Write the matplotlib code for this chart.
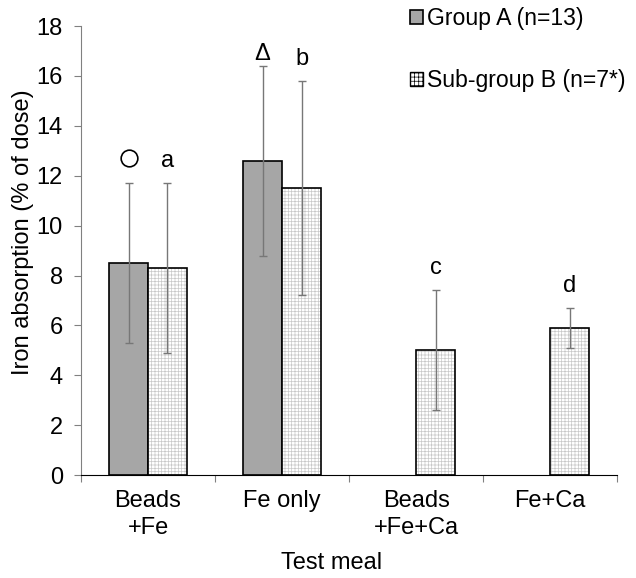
import matplotlib
matplotlib.use('Agg')
import matplotlib.pyplot as plt
import numpy as np

plt.rcParams['font.family'] = ['Liberation Sans', 'DejaVu Sans']
plt.rcParams['hatch.linewidth'] = 0.5

# data
meals = ['Beads\n+Fe', 'Fe only', 'Beads\n+Fe+Ca', 'Fe+Ca']
group_a = [8.5, 12.6, np.nan, np.nan]
group_a_lo = [5.3, 8.8, np.nan, np.nan]
group_a_hi = [11.7, 16.4, np.nan, np.nan]
group_b = [8.3, 11.5, 5.0, 5.9]
group_b_lo = [4.9, 7.2, 2.6, 5.1]
group_b_hi = [11.7, 15.8, 7.4, 6.7]
marks_b = ['a', 'b', 'c', 'd']

fs = 17

fig = plt.figure(figsize=(6.36, 5.78), dpi=100)
ax = fig.add_axes([0.1274, 0.178, 0.843, 0.777])

x = np.arange(len(meals))
w = 0.29
xa = x - w / 2
xb = x + w / 2

a = np.array(group_a)
b = np.array(group_b)
ok = ~np.isnan(a)

ax.bar(xa[ok], a[ok], w, color='#a6a6a6', edgecolor='black', linewidth=1.2,
       label='Group A (n=13)', zorder=2)
# hatched grid for sub-group B, then black outline on top
ax.bar(xb, b, w, color='white', edgecolor='#c8c8c8', linewidth=0, hatch='+++++',
       zorder=2)
ax.bar(xb, b, w, color='none', edgecolor='black', linewidth=1.2, zorder=3)
ax.bar([np.nan], [np.nan], color='white', edgecolor='black', hatch='++++',
       label='Sub-group B (n=7*)')

err_a = [a[ok] - np.array(group_a_lo)[ok], np.array(group_a_hi)[ok] - a[ok]]
err_b = [b - np.array(group_b_lo), np.array(group_b_hi) - b]
ax.errorbar(xa[ok], a[ok], yerr=err_a, fmt='none', ecolor='#777777',
            elinewidth=1, capsize=3, capthick=1, zorder=4)
ax.errorbar(xb, b, yerr=err_b, fmt='none', ecolor='#777777',
            elinewidth=1, capsize=3, capthick=1, zorder=4)

# significance marks
ax.plot(xa[0], group_a_hi[0] + 1.0, 'o', ms=12, mfc='white', mec='black',
        mew=1.2, zorder=5)
ax.text(xa[1], group_a_hi[1] + 0.25, 'Δ', ha='center', va='baseline',
        fontsize=fs)
for i in range(len(meals)):
    ax.text(xb[i], group_b_hi[i] + 0.65, marks_b[i], ha='center',
            va='baseline', fontsize=fs)

ax.set_xlim(-0.5, 3.5)
ax.set_ylim(0, 18)
ax.set_yticks(range(0, 19, 2))
ax.set_xticks(np.arange(-0.5, 4, 1))
ax.set_xticklabels([])
ax.set_xticks(x, minor=True)
ax.set_xticklabels(meals, minor=True, fontsize=fs, linespacing=1.25)
ax.tick_params(axis='x', which='minor', length=0, pad=11)
ax.tick_params(axis='x', which='major', length=5, color='#808080')
ax.tick_params(axis='y', labelsize=fs, length=5, pad=8, color='#808080')
for s in ['top', 'right']:
    ax.spines[s].set_visible(False)
ax.spines['left'].set_color('#808080')
ax.spines['bottom'].set_color('black')

ax.set_ylabel('Iron absorption (% of dose)', fontsize=fs)
ax.yaxis.set_label_coords(-0.087, 0.541)
ax.set_xlabel('Test meal', fontsize=fs)
ax.xaxis.set_label_coords(0.468, -0.172)

fig.legend(loc='upper left', bbox_to_anchor=(0.6447, 0.988), frameon=False,
           fontsize=16.6, handlelength=0.55, handleheight=0.55,
           handletextpad=0.2, labelspacing=1.7, borderpad=0,
           borderaxespad=0)

plt.savefig('out.png', dpi=100)
